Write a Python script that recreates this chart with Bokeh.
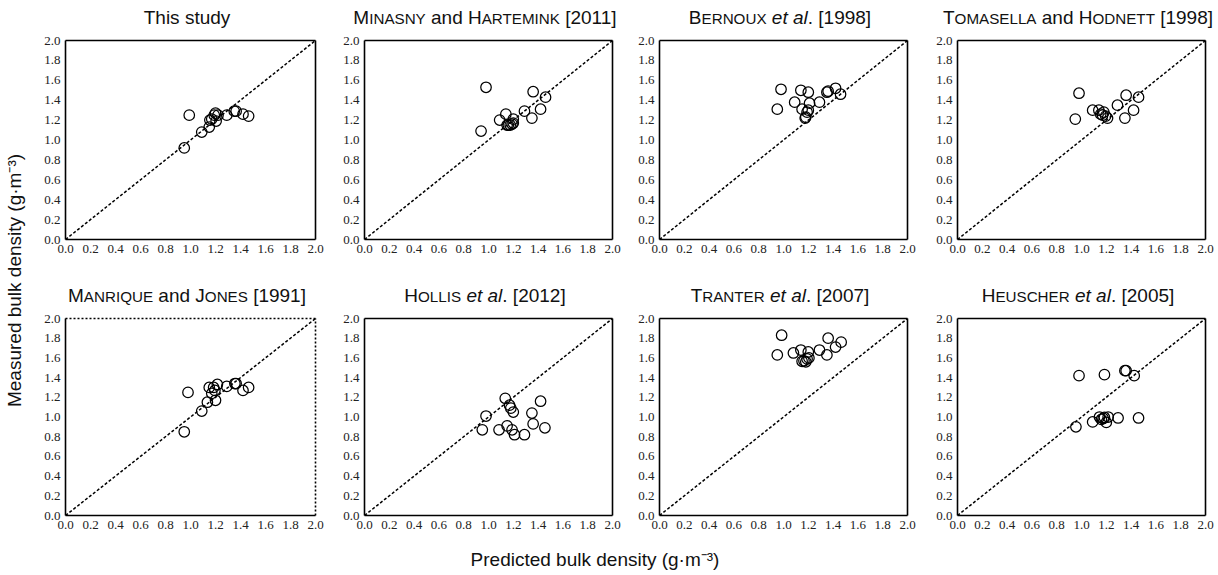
from bokeh.plotting import figure
from bokeh.models import Range1d, FixedTicker, LinearAxis, Div
from bokeh.layouts import row, column
from bokeh.embed import file_html
from bokeh.resources import INLINE

# ---------------- data ----------------
ticks = [0.0, 0.2, 0.4, 0.6, 0.8, 1.0, 1.2, 1.4, 1.6, 1.8, 2.0]
tick_labels = ["0.0", "0.2", "0.4", "0.6", "0.8", "1.0", "1.2", "1.4", "1.6", "1.8", "2.0"]
one_to_one = [0.0, 2.0]

x_this = [0.95, 0.99, 1.09, 1.15, 1.155, 1.17, 1.19, 1.20, 1.205, 1.22, 1.29, 1.35, 1.365, 1.42, 1.465]
y_this = [0.92, 1.25, 1.08, 1.13, 1.20, 1.21, 1.25, 1.27, 1.19, 1.25, 1.25, 1.29, 1.29, 1.26, 1.24]

x_minasny = [0.94, 0.98, 1.09, 1.14, 1.15, 1.16, 1.175, 1.19, 1.20, 1.20, 1.29, 1.35, 1.36, 1.42, 1.46]
y_minasny = [1.09, 1.53, 1.20, 1.26, 1.15, 1.15, 1.15, 1.16, 1.17, 1.21, 1.29, 1.22, 1.485, 1.31, 1.43]

x_bernoux = [0.95, 0.98, 1.09, 1.14, 1.15, 1.18, 1.19, 1.20, 1.21, 1.20, 1.29, 1.35, 1.36, 1.42, 1.46, 1.175]
y_bernoux = [1.31, 1.51, 1.38, 1.50, 1.31, 1.23, 1.28, 1.48, 1.37, 1.30, 1.38, 1.48, 1.49, 1.52, 1.46, 1.22]

x_tomasella = [0.95, 0.98, 1.09, 1.14, 1.155, 1.18, 1.195, 1.21, 1.17, 1.29, 1.35, 1.36, 1.42, 1.46]
y_tomasella = [1.21, 1.47, 1.30, 1.30, 1.26, 1.28, 1.24, 1.22, 1.25, 1.35, 1.22, 1.45, 1.30, 1.43]

x_manrique = [0.95, 0.98, 1.09, 1.135, 1.15, 1.17, 1.185, 1.195, 1.20, 1.215, 1.29, 1.355, 1.365, 1.42, 1.465]
y_manrique = [0.85, 1.25, 1.06, 1.15, 1.30, 1.24, 1.30, 1.27, 1.17, 1.33, 1.31, 1.34, 1.34, 1.27, 1.30]

x_hollis = [0.95, 0.98, 1.085, 1.135, 1.15, 1.17, 1.18, 1.20, 1.19, 1.21, 1.29, 1.35, 1.36, 1.42, 1.455]
y_hollis = [0.87, 1.01, 0.87, 1.19, 0.91, 1.12, 1.09, 1.05, 0.87, 0.82, 0.82, 1.04, 0.93, 1.16, 0.89]

x_tranter = [0.95, 0.985, 1.08, 1.14, 1.15, 1.165, 1.18, 1.20, 1.205, 1.19, 1.29, 1.35, 1.36, 1.42, 1.465]
y_tranter = [1.63, 1.83, 1.65, 1.68, 1.565, 1.57, 1.56, 1.66, 1.60, 1.59, 1.68, 1.63, 1.80, 1.71, 1.76]

x_heuscher = [0.955, 0.98, 1.09, 1.145, 1.16, 1.175, 1.185, 1.185, 1.20, 1.215, 1.295, 1.35, 1.36, 1.425, 1.46]
y_heuscher = [0.90, 1.42, 0.95, 1.00, 0.975, 0.985, 1.43, 0.995, 0.945, 1.00, 0.99, 1.47, 1.47, 1.42, 0.99]

panels = [
    ("This study", x_this, y_this),
    ("MINASNY and HARTEMINK [2011]", x_minasny, y_minasny),
    ("BERNOUX et al. [1998]", x_bernoux, y_bernoux),
    ("TOMASELLA and HODNETT [1998]", x_tomasella, y_tomasella),
    ("MANRIQUE and JONES [1991]", x_manrique, y_manrique),
    ("HOLLIS et al. [2012]", x_hollis, y_hollis),
    ("TRANTER et al. [2007]", x_tranter, y_tranter),
    ("HEUSCHER et al. [2005]", x_heuscher, y_heuscher),
]

y_label = "Measured bulk density (g·m⁻³)"
x_label = "Predicted bulk density (g·m⁻³)"


# ---------------- helpers ----------------
def sc(word):
    return word[0] + '<span style="font-size:0.8em">' + word[1:].upper() + '</span>'


def title_html(t):
    out = []
    for w in t.split(" "):
        if w.isupper() and len(w) > 1 and w.isalpha():
            out.append(sc(w))
        elif w == "et":
            out.append("<i>et</i>")
        elif w == "al.":
            out.append("<i>al</i>.")
        else:
            out.append(w)
    return " ".join(out)


# (figure width, left border, right border)
cols = [(299, 32, 17), (295, 32, 15), (298, 32, 18), (291, 32, 11)]
# (title height, title text centre offset, fig height, top border, bottom border)
rows_geom = [(30, 18, 254, 10, 45), (24, 12, 232, 10, 25)]

FONT_SANS = "'Liberation Sans', Arial, sans-serif"
FS = 19
LH = 22
TITLE_DX = -3


def make_panel(xs, ys, W, left, right, H, top, bottom, dotted):
    p = figure(width=W, height=H, x_range=Range1d(0, 2), y_range=Range1d(0, 2),
               output_backend="svg", toolbar_location=None,
               min_border_left=left, min_border_right=right,
               min_border_top=top, min_border_bottom=bottom)
    p.grid.visible = False
    p.outline_line_color = None
    p.background_fill_color = "white"
    for ax in p.axis:
        ax.ticker = FixedTicker(ticks=ticks)
        ax.major_label_overrides = {t: l for t, l in zip(ticks, tick_labels)}
        ax.major_tick_in = 0
        ax.major_tick_out = 0
        ax.minor_tick_in = 0
        ax.minor_tick_out = 0
        ax.axis_line_color = "black"
        ax.axis_line_width = 1.6
        ax.major_label_text_font = "Liberation Serif"
        ax.major_label_text_font_size = "13px"
        ax.major_label_text_color = "#222222"
        ax.major_label_standoff = 5
    for loc in ("above", "right"):
        a = LinearAxis(ticker=FixedTicker(ticks=[]), major_tick_in=0, major_tick_out=0,
                       minor_tick_in=0, minor_tick_out=0, axis_line_color="black",
                       axis_line_width=1.6,
                       major_label_text_font_size="0px", major_label_standoff=0)
        if dotted:
            a.axis_line_dash = "2 2"
        p.add_layout(a, loc)
    p.line(one_to_one, one_to_one, line_color="black", line_width=1.5, line_dash="3 2")
    p.scatter(xs, ys, marker="circle", size=10.5, fill_color=None,
              line_color="black", line_width=1.25)
    return p


grid_children = []
for r in range(2):
    th, tc, fh, top, bottom = rows_geom[r]
    tdivs, figs = [], []
    for c in range(4):
        W, left, right = cols[c]
        title, xs, ys = panels[r * 4 + c]
        fw = W - left - right
        inner_w = 2 * (left + fw // 2 + TITLE_DX)
        html = ('<div style="width:%dpx;padding-top:%dpx;text-align:center;'
                'font-family:%s;font-size:%dpx;line-height:%dpx;color:#111;white-space:nowrap">%s</div>'
                % (inner_w, tc - LH // 2, FONT_SANS, FS, LH, title_html(title)))
        tdivs.append(Div(text=html, width=W, height=th, margin=(0, 0, 0, 0)))
        figs.append(make_panel(xs, ys, W, left, right, fh, top, bottom,
                               dotted=(r * 4 + c == 4)))
    grid_children.append(row(*tdivs, spacing=0))
    grid_children.append(row(*figs, spacing=0))

grid = column(*grid_children, spacing=0)

total_h = sum(g[0] + g[2] for g in rows_geom)
ylab = figure(width=33, height=total_h, x_range=Range1d(0, 1), y_range=Range1d(0, 1),
              output_backend="svg", toolbar_location=None,
              min_border_left=9, min_border_right=0, min_border_top=20, min_border_bottom=0)
ylab.xaxis.visible = False
ylab.grid.visible = False
ylab.outline_line_color = None
ya = ylab.yaxis[0]
ya.ticker = FixedTicker(ticks=[])
ya.axis_line_color = None
ya.major_tick_out = 0
ya.major_tick_in = 0
ya.minor_tick_out = 0
ya.minor_tick_in = 0
ya.major_label_text_font_size = "0px"
ya.major_label_standoff = 0
ya.axis_label = y_label
ya.axis_label_standoff = 0
ya.axis_label_text_font = "Liberation Sans"
ya.axis_label_text_font_size = "%dpx" % FS
ya.axis_label_text_font_style = "normal"
ya.axis_label_text_color = "#111111"

xl_html = ('<div style="width:1190px;text-align:center;font-family:%s;font-size:%dpx;'
           'padding-top:%dpx;line-height:%dpx;color:#111;white-space:nowrap">%s</div>'
           % (FONT_SANS, FS, 20 - LH // 2, LH, x_label))
xlab = Div(text=xl_html, width=1216, height=33, margin=(0, 0, 0, 0))

page = column(row(ylab, grid, spacing=0), xlab, spacing=0)

open("out.html", "w").write(file_html(page, INLINE))
